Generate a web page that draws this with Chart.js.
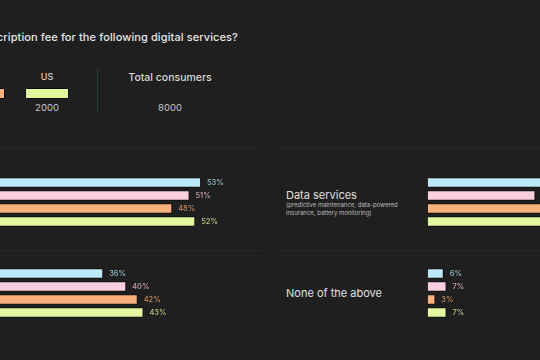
<!DOCTYPE html>
<html>
<head>
<meta charset="utf-8">
<script src="https://cdn.jsdelivr.net/npm/chart.js@4"></script>
<style>
  html, body { margin: 0; padding: 0; }
  body { width: 540px; height: 360px; background: #1f1f1f; overflow: hidden; position: relative;
         font-family: Inter, "Open Sans", sans-serif; color: #e6e6e6; }
  .abs { position: absolute; white-space: nowrap; }
  canvas { position: absolute; }
  .title { font-size: 11px; font-weight: 500; top: 30px; right: 302px; text-align: right; letter-spacing: 0.1px; }
  .lg-name { font-size: 9px; font-weight: 500; color: #d8d8d8; width: 60px; text-align: center; top: 71px; }
  .lg-box { width: 42px; height: 9px; top: 88px; border: 1px solid #0c0c0c; }
  .lg-num { font-size: 9.5px; color: #c8c8c8; width: 60px; text-align: center; top: 102px; }
  .divider { left: 97px; top: 68px; width: 1px; height: 46px; background: #1d3b37; }
  .rule { height: 1px; background: #282828; }
  .cat { font-size: 11px; color: #e0e0e0; }
  .sub { font-size: 6px; color: #bdbdbd; line-height: 7.5px; }
</style>
</head>
<body>
<div class="abs title">Would you pay a monthly subscription fee for the following digital services?</div>
<div class="abs divider"></div>
<div class="abs lg-name" style="left:110px;width:120px;font-size:10.5px;">Total consumers</div>
<div class="abs lg-num" id="total" style="left:140px;width:60px;"></div>

<div class="abs rule" style="left:0;top:147px;width:262px;"></div>
<div class="abs rule" style="left:281px;top:147px;width:259px;"></div>
<div class="abs rule" style="left:0;top:250px;width:262px;"></div>
<div class="abs rule" style="left:281px;top:250px;width:259px;"></div>

<div class="abs cat" style="left:286px;top:188px;">Data services</div>
<div class="abs sub" style="left:286px;top:201px;">(predictive maintenance, data-powered<br>insurance, battery monitoring)</div>
<div class="abs cat" style="left:286px;top:286px;">None of the above</div>

<script>
// markets / respondents
const markets = ["UK", "Germany", "China", "US"];
const respondents = [2000, 2000, 2000, 2000];
const barColors = ["#bce9f6", "#fbd0dc", "#f9b07b", "#e2f79e"];
const labelColors = ["#94bcc8", "#c9a2ae", "#c68a5c", "#b2c57c"];

// share of consumers willing to pay (%)
const serviceA = [53, 51, 48, 52];          // left panel, upper group
const serviceB = [36, 40, 42, 43];          // left panel, lower group
const dataServices = [45, 39, 44, 46];      // right panel, upper group
const noneOfTheAbove = [6, 7, 3, 7];        // right panel, lower group

// legend (only the last entries fall inside the frame)
markets.forEach((m, i) => {
  const cx = 47 - (markets.length - 1 - i) * 64;
  const name = document.createElement("div");
  name.className = "abs lg-name"; name.style.left = (cx - 30) + "px"; name.textContent = m;
  const box = document.createElement("div");
  box.className = "abs lg-box"; box.style.left = (cx - 22) + "px"; box.style.background = barColors[i];
  const num = document.createElement("div");
  num.className = "abs lg-num"; num.style.left = (cx - 30) + "px"; num.textContent = respondents[i];
  document.body.append(name, box, num);
});
document.getElementById("total").textContent = respondents.reduce((a, b) => a + b, 0);

const valueLabels = {
  id: "valueLabels",
  afterDatasetsDraw(chart) {
    const ctx = chart.ctx;
    const meta = chart.getDatasetMeta(0);
    ctx.save();
    ctx.font = "500 7.5px Inter, 'Open Sans', sans-serif";
    ctx.textBaseline = "middle";
    meta.data.forEach((bar, i) => {
      ctx.fillStyle = labelColors[i];
      ctx.fillText(chart.data.datasets[0].data[i] + "%", bar.x + 6, bar.y + 0.5);
    });
    ctx.restore();
  }
};

function group(left, top, width, max, values) {
  const cv = document.createElement("canvas");
  cv.width = width; cv.height = 52;
  cv.style.left = left + "px"; cv.style.top = top + "px";
  document.body.appendChild(cv);
  return new Chart(cv.getContext("2d"), {
    type: "bar",
    data: {
      labels: markets,
      datasets: [{
        data: values, backgroundColor: barColors, borderColor: "#111111",
        borderWidth: 1.2, borderSkipped: false, barThickness: 10,
      }],
    },
    options: {
      indexAxis: "y", responsive: false, animation: false,
      layout: { padding: 0 },
      plugins: { legend: { display: false }, tooltip: { enabled: false } },
      scales: { x: { display: false, min: 0, max }, y: { display: false } },
    },
    plugins: [valueLabels],
  });
}

group(-104, 176, 374, 65, serviceA);
group(-104, 267, 374, 65, serviceB);
group(427, 176, 200, 72, dataServices);
group(427, 267, 200, 72, noneOfTheAbove);
</script>
</body>
</html>
